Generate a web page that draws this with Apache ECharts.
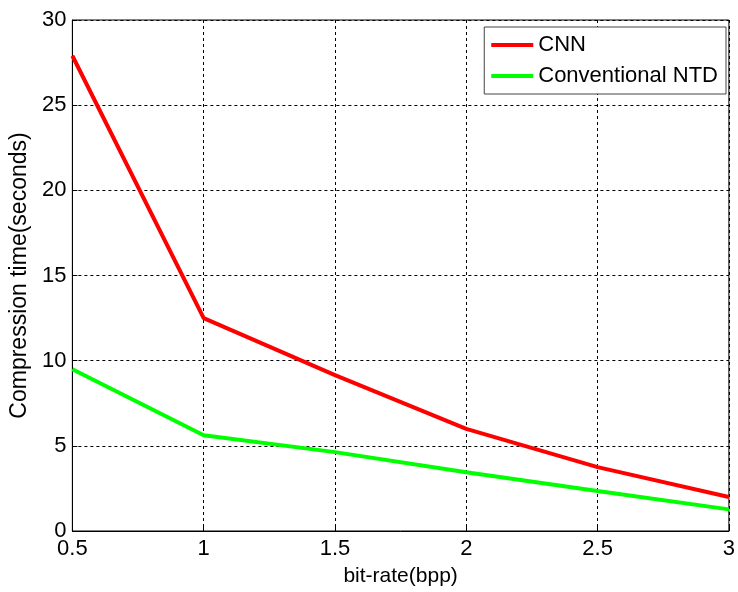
<!DOCTYPE html>
<html>
<head>
<meta charset="utf-8">
<script src="https://cdn.jsdelivr.net/npm/echarts@6/dist/echarts.min.js"></script>
<style>html,body{margin:0;padding:0;background:#fff}#c{width:738px;height:592px}</style>
</head>
<body>
<div id="c"></div>
<script>
const bitRates = [0.5, 1, 1.5, 2, 2.5, 3];
const cnnTimes = [27.9, 12.5, 9.15, 6.0, 3.75, 2.0];
const ntdTimes = [9.5, 5.62, 4.63, 3.45, 2.35, 1.27];
const seriesNames = ['CNN', 'Conventional NTD'];

const font = 'Liberation Sans, Arial, sans-serif';
const chart = echarts.init(document.getElementById('c'));
chart.setOption({
  animation: false,
  backgroundColor: '#fff',
  grid: { left: 71, right: 6, top: 20, bottom: 61, show: true, borderColor: '#000', borderWidth: 1, backgroundColor: '#fff' },
  legend: {
    data: seriesNames,
    orient: 'vertical',
    right: 12, top: 27,
    padding: [7, 8, 7, 7],
    itemGap: 9,
    itemWidth: 42, itemHeight: 4,
    icon: 'rect',
    backgroundColor: '#fff',
    borderColor: '#444', borderWidth: 1,
    textStyle: { fontFamily: font, fontSize: 22, color: '#000', padding: [0, 0, 0, 0] }
  },
  xAxis: {
    type: 'value', min: 0.5, max: 3, interval: 0.5,
    name: 'bit-rate(bpp)', nameLocation: 'middle', nameGap: 35,
    nameTextStyle: { fontFamily: font, fontSize: 21, color: '#000' },
    axisLine: { lineStyle: { color: '#000', width: 1 } },
    axisTick: { inside: true, length: 5, lineStyle: { color: '#000' } },
    axisLabel: { fontFamily: font, fontSize: 22, color: '#000', margin: 7 },
    splitLine: { show: true, lineStyle: { color: '#000', type: [3, 3], width: 1 } }
  },
  yAxis: {
    type: 'value', min: 0, max: 30, interval: 5,
    name: 'Compression time(seconds)', nameLocation: 'middle', nameGap: 37,
    nameTextStyle: { fontFamily: font, fontSize: 23, color: '#000' },
    axisLine: { show: true, lineStyle: { color: '#000', width: 1 } },
    axisTick: { show: true, inside: true, length: 5, lineStyle: { color: '#000' } },
    axisLabel: { fontFamily: font, fontSize: 22, color: '#000', margin: 6 },
    splitLine: { show: true, lineStyle: { color: '#000', type: [3, 3], width: 1 } }
  },
  series: [
    { name: seriesNames[0], type: 'line', data: bitRates.map((x, i) => [x, cnnTimes[i]]), showSymbol: false, symbol: 'none', lineStyle: { color: '#ff0000', width: 4 }, itemStyle: { color: '#ff0000' } },
    { name: seriesNames[1], type: 'line', data: bitRates.map((x, i) => [x, ntdTimes[i]]), showSymbol: false, symbol: 'none', lineStyle: { color: '#00ff00', width: 4 }, itemStyle: { color: '#00ff00' } }
  ]
});
</script>
</body>
</html>
